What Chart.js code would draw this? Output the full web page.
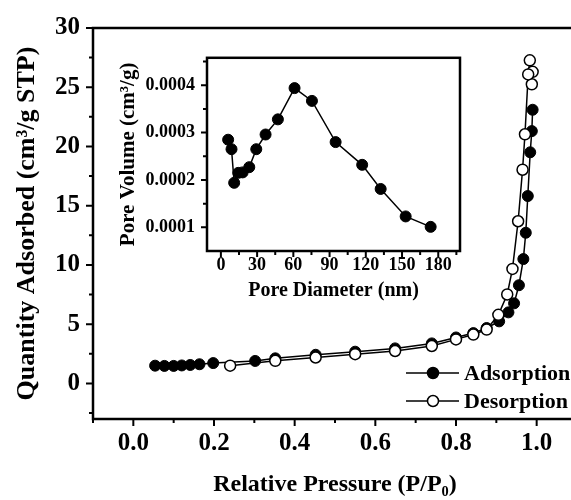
<!DOCTYPE html>
<html><head><meta charset="utf-8">
<script src="https://cdn.jsdelivr.net/npm/chart.js@4/dist/chart.umd.min.js"></script>
<style>
html,body{margin:0;padding:0;background:#fff;overflow:hidden;width:571px;height:500px;position:relative;}
#main{position:absolute;left:0;top:0;}
#inset{position:absolute;left:110px;top:35px;}
</style></head><body>
<canvas id="main" width="590" height="500"></canvas>
<canvas id="inset" width="360" height="275"></canvas>
<script>
// ---- main isotherm data ----
const adsX = [0.054,0.077,0.100,0.120,0.141,0.164,0.198,0.302,0.352,0.452,0.550,0.649,0.740,0.800,0.843,0.876,0.907,0.930,0.944,0.956,0.967,0.973,0.978,0.984,0.988,0.990];
const adsY = [1.5,1.48,1.48,1.52,1.56,1.62,1.72,1.9,2.12,2.42,2.68,2.96,3.38,3.88,4.25,4.68,5.24,6.0,6.76,8.29,10.5,12.72,15.82,19.51,21.3,23.1];
const desX = [0.988,0.990,0.983,0.979,0.971,0.965,0.954,0.940,0.927,0.905,0.876,0.843,0.800,0.740,0.649,0.550,0.452,0.352,0.240];
const desY = [25.25,26.3,27.27,26.08,21.03,18.04,13.69,9.67,7.51,5.79,4.55,4.13,3.72,3.16,2.74,2.47,2.19,1.91,1.5];
const xTicks = [0,0.2,0.4,0.6,0.8,1.0];
const xMinorTicks = [-0.1,0.1,0.3,0.5,0.7,0.9,1.1];
const yTicks = [0,5,10,15,20,25,30];
const yMinorTicks = [-2.5,2.5,7.5,12.5,17.5,22.5,27.5];
const seriesNames = ['Adsorption','Desorption'];

// ---- inset pore size distribution ----
const poreDiameter = [6.0,8.8,11.0,14.4,18.0,23.5,29.3,37.0,47.2,61.0,75.4,95.0,117,132.3,153,173.7];
const poreVolume = [0.000285,0.000265,0.000194,0.000215,0.000216,0.000227,0.000265,0.000296,0.000328,0.000394,0.000367,0.00028,0.000232,0.000181,0.000123,0.000101];
const insetXTicks = [0,30,60,90,120,150,180];
const insetXMinor = [15,45,75,105,135,165,195];
const insetYTicks = [0.0001,0.0002,0.0003,0.0004];
const insetYMinor = [0.00015,0.00025,0.00035,0.00045];

const FF = "'Liberation Serif','DejaVu Serif','Times New Roman',serif";

function framePlugin(xMaj, xMin, yMaj, yMin, majLen, minLen, lw) {
  return {
    id: 'frame',
    afterDatasetsDraw(chart) {
      const {ctx, chartArea: a, scales: {x, y}} = chart;
      ctx.save();
      ctx.strokeStyle = '#000';
      ctx.lineWidth = lw;
      ctx.strokeRect(a.left, a.top, a.right - a.left, a.bottom - a.top);
      ctx.lineWidth = 2;
      ctx.beginPath();
      xMaj.forEach(v => { const p = x.getPixelForValue(v); ctx.moveTo(p, a.bottom); ctx.lineTo(p, a.bottom + majLen); });
      xMin.forEach(v => { const p = x.getPixelForValue(v); ctx.moveTo(p, a.bottom); ctx.lineTo(p, a.bottom + minLen); });
      yMaj.forEach(v => { const p = y.getPixelForValue(v); ctx.moveTo(a.left, p); ctx.lineTo(a.left - majLen, p); });
      yMin.forEach(v => { const p = y.getPixelForValue(v); ctx.moveTo(a.left, p); ctx.lineTo(a.left - minLen, p); });
      ctx.stroke();
      ctx.restore();
    }
  };
}

const legendPlugin = {
  id: 'customLegend',
  afterDraw(chart) {
    const ctx = chart.ctx;
    const rows = [{ds: chart.data.datasets[1], y: 373}, {ds: chart.data.datasets[0], y: 401}];
    ctx.save();
    rows.forEach(r => {
      ctx.strokeStyle = '#000';
      ctx.lineWidth = 1.5;
      ctx.beginPath(); ctx.moveTo(406, r.y); ctx.lineTo(459, r.y); ctx.stroke();
      ctx.beginPath(); ctx.arc(433, r.y, 5.5, 0, Math.PI * 2);
      ctx.fillStyle = r.ds.pointBackgroundColor; ctx.fill(); ctx.stroke();
      ctx.fillStyle = '#000';
      ctx.font = 'bold 22px ' + FF;
      ctx.textBaseline = 'middle';
      ctx.textAlign = 'left';
      ctx.fillText(r.ds.label, 464, r.y + 1);
    });
    ctx.restore();
  }
};

const hiddenGrid = {display: true, drawOnChartArea: false, drawTicks: false, color: 'rgba(0,0,0,0)'};

new Chart(document.getElementById('main'), {
  type: 'scatter',
  data: {
    datasets: [
      {label: seriesNames[1], data: desX.map((v, i) => ({x: v, y: desY[i]})), showLine: true,
       borderColor: '#000', borderWidth: 1.5, pointRadius: 5.5, pointBackgroundColor: '#fff',
       pointBorderColor: '#000', pointBorderWidth: 1.5, order: 0},
      {label: seriesNames[0], data: adsX.map((v, i) => ({x: v, y: adsY[i]})), showLine: true,
       borderColor: '#000', borderWidth: 1.5, pointRadius: 5.5, pointBackgroundColor: '#000',
       pointBorderColor: '#000', pointBorderWidth: 1, order: 1}
    ]
  },
  options: {
    responsive: false, animation: false, events: [],
    layout: {padding: {left: 0, top: 22, right: 13, bottom: 0}},
    plugins: {legend: {display: false}, tooltip: {enabled: false}},
    scales: {
      x: {type: 'linear', min: -0.1, max: 1.1,
          afterBuildTicks: s => { s.ticks = xTicks.map(v => ({value: v})); },
          afterFit: s => { s.height = 81; },
          grid: hiddenGrid, border: {display: false},
          ticks: {padding: 10, color: '#000', font: {family: FF, size: 25, weight: 'bold'},
                  callback: v => Number(v).toFixed(1), maxRotation: 0, autoSkip: false},
          title: {display: true, text: 'Relative Pressure (P/P\u2080)', color: '#000',
                  font: {family: FF, size: 24, weight: 'bold'}, padding: {top: 0, bottom: 1}}},
      y: {type: 'linear', min: -3, max: 30,
          afterBuildTicks: s => { s.ticks = yTicks.map(v => ({value: v})); },
          afterFit: s => { s.width = 93; },
          grid: hiddenGrid, border: {display: false},
          ticks: {padding: 13, color: '#000', font: {family: FF, size: 25, weight: 'bold'},
                  callback: v => String(v), autoSkip: false},
          title: {display: true, text: 'Quantity Adsorbed (cm\u00b3/g STP)', color: '#000',
                  font: {family: FF, size: 26, weight: 'bold'}, padding: {top: 12, bottom: 0}}}
    }
  },
  plugins: [framePlugin(xTicks, xMinorTicks, yTicks, yMinorTicks, 7, 4, 2.5), legendPlugin]
});

new Chart(document.getElementById('inset'), {
  type: 'scatter',
  data: {
    datasets: [
      {label: 'Pore Volume', data: poreDiameter.map((v, i) => ({x: v, y: poreVolume[i]})), showLine: true,
       borderColor: '#000', borderWidth: 1.5, pointRadius: 5.5, pointBackgroundColor: '#000',
       pointBorderColor: '#000', pointBorderWidth: 1}
    ]
  },
  options: {
    responsive: false, animation: false, events: [],
    layout: {padding: {left: 0, top: 12, right: 10, bottom: 0}},
    plugins: {legend: {display: false}, tooltip: {enabled: false}},
    scales: {
      x: {type: 'linear', min: -11.5, max: 198,
          afterBuildTicks: s => { s.ticks = insetXTicks.map(v => ({value: v})); },
          afterFit: s => { s.height = 59; },
          grid: hiddenGrid, border: {display: false},
          ticks: {padding: 4, color: '#000', font: {family: FF, size: 18, weight: 'bold'},
                  callback: v => String(v), maxRotation: 0, autoSkip: false},
          title: {display: true, text: 'Pore Diameter (nm)', color: '#000',
                  font: {family: FF, size: 20, weight: 'bold'}, padding: {top: 0, bottom: 7}}},
      y: {type: 'linear', min: 0.00005, max: 0.000458,
          afterBuildTicks: s => { s.ticks = insetYTicks.map(v => ({value: v})); },
          afterFit: s => { s.width = 97; },
          grid: hiddenGrid, border: {display: false},
          ticks: {padding: 12, color: '#000', font: {family: FF, size: 18, weight: 'bold'},
                  callback: v => Number(v).toFixed(4), autoSkip: false},
          title: {display: true, text: 'Pore Volume (cm\u00b3/g)', color: '#000',
                  font: {family: FF, size: 21, weight: 'bold'}, padding: {top: 6, bottom: 0}}}
    }
  },
  plugins: [framePlugin(insetXTicks, insetXMinor, insetYTicks, insetYMinor, 6, 4, 2.5)]
});
</script>
</body></html>
